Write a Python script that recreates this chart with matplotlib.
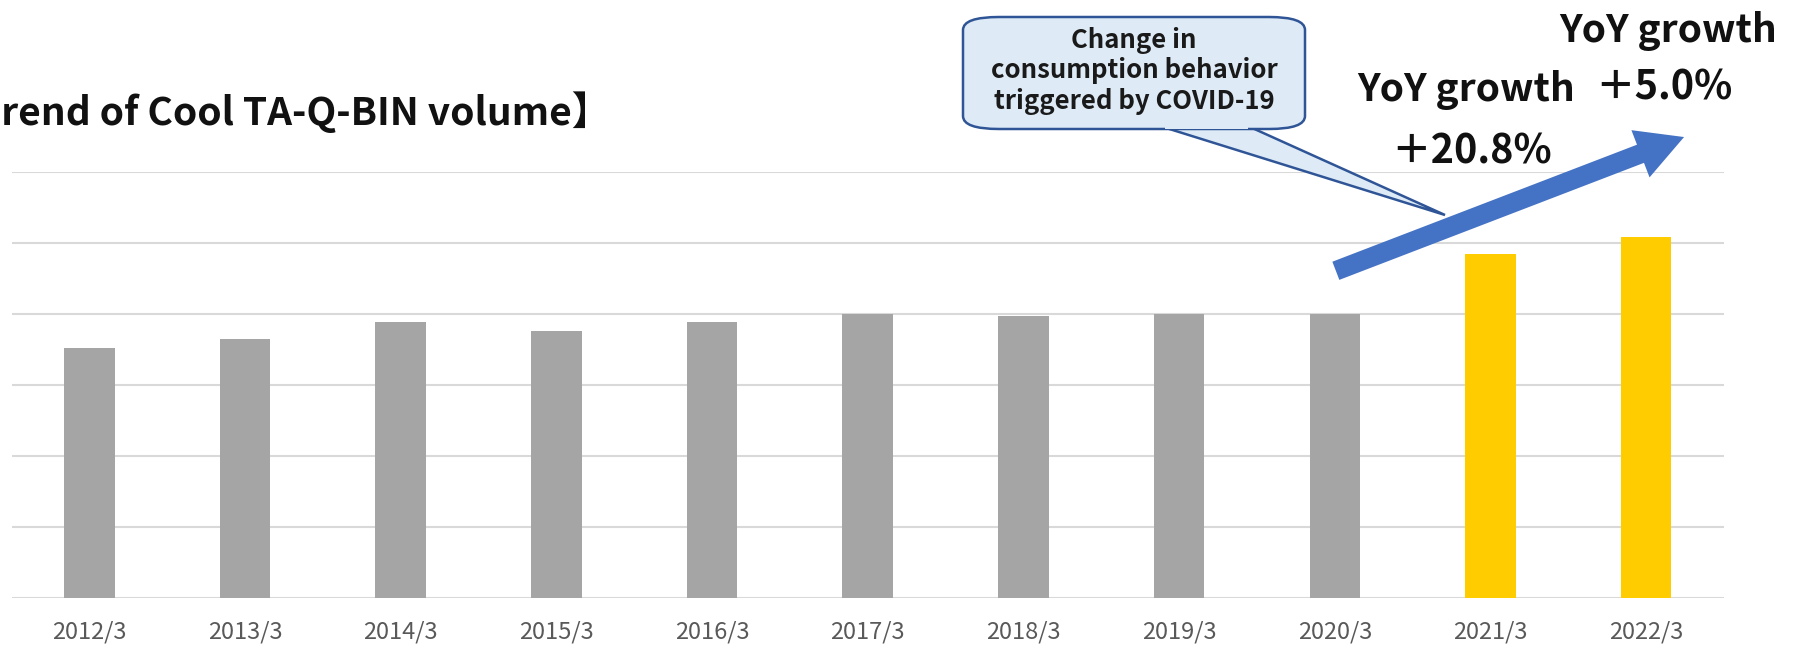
import numpy as np
import matplotlib.pyplot as plt
from matplotlib.patches import FancyBboxPatch, Polygon

# 数値はグラフから読み取った目盛り単位（補助線1本 = 1）
labels = ['2012/3', '2013/3', '2014/3', '2015/3', '2016/3', '2017/3',
          '2018/3', '2019/3', '2020/3', '2021/3', '2022/3']
volume = [3.52, 3.65, 3.88, 3.76, 3.88, 4.00, 3.97, 3.99, 4.00, 4.84, 5.08]
colors = ['#A5A5A5'] * 9 + ['#FFCC00'] * 2

title = '【Trend of Cool TA-Q-BIN volume】'
note = 'Change in\nconsumption behavior\ntriggered by COVID-19'
growth = ['＋20.8%', '＋5.0%']

plt.rcParams['font.family'] = ['Noto Sans CJK JP', 'DejaVu Sans']

fig = plt.figure(figsize=(18.06, 6.46), dpi=100)
ax = fig.add_axes([0.0064, 0.0743, 0.9482, 0.6601])

x = np.arange(len(labels))
ax.bar(x, volume, width=0.325, color=colors, zorder=3)

ax.set_xlim(-0.5, len(labels) - 0.5)
ax.set_ylim(0, 6)
ax.set_yticks(np.arange(0, 7, 1))
ax.set_yticklabels([])
ax.grid(axis='y', color='#D9D9D9', linewidth=1.5, zorder=0)
ax.tick_params(axis='both', length=0)
ax.set_xticks(x)
ax.set_xticklabels(labels, fontsize=17, color='#595959')
ax.tick_params(axis='x', pad=16)
for s in ax.spines.values():
    s.set_visible(False)

# タイトル（元図でも左端が切れている）
fig.text(0.338, 0.827, title, ha='right', va='center', fontsize=28,
         fontweight='bold', color='#111111')

# 矢印
ax.annotate('', xy=(10.26, 6.5), xytext=(7.99, 4.59),
            arrowprops=dict(arrowstyle='simple,head_width=2.6,head_length=2.4,tail_width=1.0',
                            mutation_scale=14, color='#4472C4', lw=0),
            annotation_clip=False, zorder=5)

# 吹き出し
W, H = 1806, 646
def fx(px):
    return px / W
def fy(py):
    return 1 - py / H

tail = Polygon([(fx(1163), fy(127)), (fx(1445), fy(215)), (fx(1250), fy(127))],
               closed=True, transform=fig.transFigure, facecolor='#DEEBF7',
               edgecolor='#2F5597', linewidth=1.8, zorder=6)
fig.add_artist(tail)
box = FancyBboxPatch((fx(963), fy(129)), fx(1305) - fx(963), fy(17) - fy(129),
                     boxstyle='round,pad=0,rounding_size=0.02',
                     transform=fig.transFigure, facecolor='#DEEBF7',
                     edgecolor='#2F5597', linewidth=1.8, zorder=7,
                     mutation_aspect=H / W * 2.8)
fig.add_artist(box)
# 吹き出しの付け根の線を隠す
fig.add_artist(Polygon([(fx(1165), fy(128.5)), (fx(1248), fy(128.5)),
                        (fx(1248), fy(126)), (fx(1165), fy(126))],
                       closed=True, transform=fig.transFigure,
                       facecolor='#DEEBF7', edgecolor='none', zorder=8))
fig.text(fx(1134), fy(71), note, ha='center', va='center', fontsize=18.5,
         fontweight='bold', color='#1A1A1A', linespacing=1.15, zorder=9)

# 前年比
fig.text(fx(1466), fy(90), 'YoY growth', ha='center', va='center',
         fontsize=28, fontweight='bold', color='#111111')
fig.text(fx(1472), fy(152), growth[0], ha='center', va='center',
         fontsize=28.5, fontweight='bold', color='#111111')
fig.text(fx(1668), fy(31), 'YoY growth', ha='center', va='center',
         fontsize=28, fontweight='bold', color='#111111')
fig.text(fx(1664), fy(88), growth[1], ha='center', va='center',
         fontsize=28.5, fontweight='bold', color='#111111')

fig.savefig('out.png', dpi=100)
